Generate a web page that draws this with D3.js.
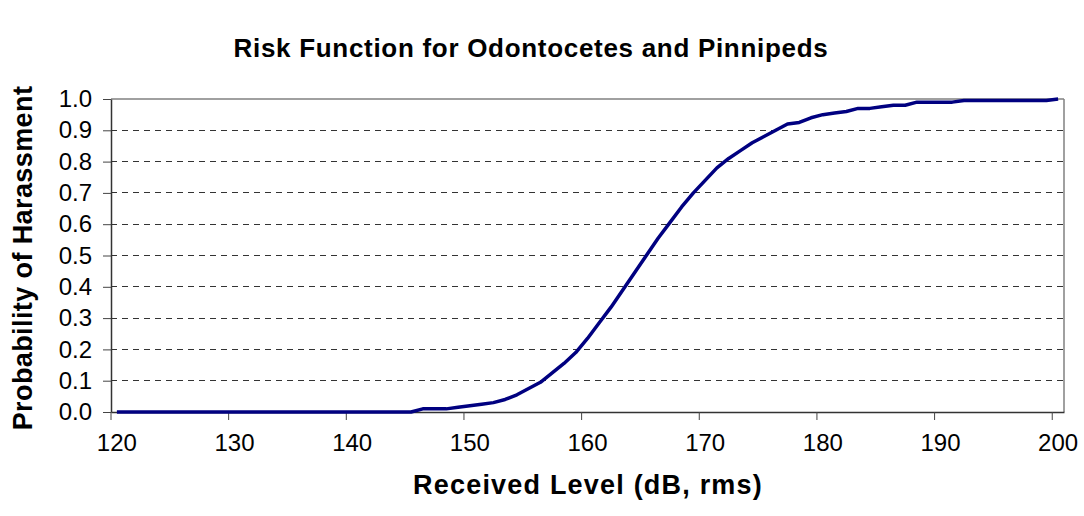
<!DOCTYPE html>
<html><head><meta charset="utf-8">
<script src="https://cdn.jsdelivr.net/npm/d3@7/dist/d3.min.js"></script>
<style>body{margin:0;background:#fff}</style>
</head><body>
<svg id="c" width="1084" height="516"></svg>
<script>
// Received level categories (dB, rms)
const levels = [120,121,122,123,124,125,126,127,128,129,130,131,132,133,134,135,136,137,138,139,
  140,141,142,143,144,145,146,147,148,149,150,151,152,153,154,155,156,157,158,159,
  160,161,162,163,164,165,166,167,168,169,170,171,172,173,174,175,176,177,178,179,
  180,181,182,183,184,185,186,187,188,189,190,191,192,193,194,195,196,197,198,199,200];
// Probability of harassment
const probability = [0,0,0,0,0,0,0,0,0,0,0,0,0,0,0,0,0,0,0,0,
  0,0,0,0,0,0,0.01,0.01,0.01,0.015,0.02,0.025,0.03,0.04,0.055,0.075,0.095,0.125,0.155,0.19,
  0.235,0.285,0.335,0.39,0.445,0.50,0.555,0.605,0.655,0.70,0.74,0.78,0.81,0.835,0.86,0.88,0.90,0.92,0.925,0.94,
  0.95,0.955,0.96,0.97,0.97,0.975,0.98,0.98,0.99,0.99,0.99,0.99,0.995,0.995,0.995,0.995,0.995,0.995,0.995,0.995,1.0];
const xTickLabels = [120,130,140,150,160,170,180,190,200];
const yTickLabels = [0,0.1,0.2,0.3,0.4,0.5,0.6,0.7,0.8,0.9,1.0];
const titleText = "Risk Function for Odontocetes and Pinnipeds";
const xTitle = "Received Level (dB, rms)";
const yTitle = "Probability of Harassment";

const svg = d3.select("#c");
const L = 111, R = 1064, T = 99, B = 412;
const x = d3.scaleBand().domain(levels).range([L, R]).padding(0);
const y = d3.scaleLinear().domain([0, 1]).range([B, T]);
const font = "Arial, 'Liberation Sans', sans-serif";

// gridlines
svg.append("g").selectAll("line").data(yTickLabels.filter(v => v > 0 && v < 1)).join("line")
  .attr("x1", L).attr("x2", R).attr("y1", d => y(d)).attr("y2", d => y(d))
  .attr("stroke", "#333").attr("stroke-width", 1).attr("stroke-dasharray", "6,5")
  .attr("shape-rendering", "crispEdges");
// top & right border
svg.append("line").attr("x1", L).attr("x2", R).attr("y1", T).attr("y2", T)
  .attr("stroke", "#808080").attr("stroke-width", 1.5);
svg.append("line").attr("x1", R).attr("x2", R).attr("y1", T).attr("y2", B)
  .attr("stroke", "#808080").attr("stroke-width", 1.5);

// x axis
const gx = svg.append("g").attr("transform", `translate(0,${B})`)
  .call(d3.axisBottom(x).tickValues(xTickLabels).tickSize(8).tickSizeOuter(0).tickPadding(14));
gx.select(".domain").attr("stroke", "#333").attr("stroke-width", 1.5);
gx.selectAll(".tick line").attr("transform", `translate(${-x.bandwidth() / 2},0)`).attr("stroke", "#444");
gx.selectAll(".tick text").attr("font-family", font).attr("font-size", 24).attr("fill", "#000");

// y axis
const gy = svg.append("g").attr("transform", `translate(${L},0)`)
  .call(d3.axisLeft(y).tickValues(yTickLabels).tickFormat(d3.format(".1f")).tickSize(8).tickSizeOuter(0).tickPadding(11));
gy.select(".domain").attr("stroke", "#333").attr("stroke-width", 1.5);
gy.selectAll(".tick line").attr("stroke", "#444");
gy.selectAll(".tick text").attr("font-family", font).attr("font-size", 24).attr("fill", "#000");

// line
const line = d3.line().x(d => x(d[0]) + x.bandwidth() / 2).y(d => y(d[1]));
svg.append("path").datum(levels.map((l, i) => [l, probability[i]]))
  .attr("d", line).attr("fill", "none").attr("stroke", "#000080").attr("stroke-width", 3.5)
  .attr("stroke-linejoin", "round");

// titles
svg.append("text").attr("x", 531).attr("y", 57).attr("text-anchor", "middle")
  .attr("font-family", font).attr("font-weight", "bold").attr("font-size", 26)
  .attr("letter-spacing", 0.7).text(titleText);
svg.append("text").attr("x", 588).attr("y", 494).attr("text-anchor", "middle")
  .attr("font-family", font).attr("font-weight", "bold").attr("font-size", 27)
  .attr("letter-spacing", 1.2).text(xTitle);
svg.append("text").attr("transform", "translate(32,258) rotate(-90)").attr("text-anchor", "middle")
  .attr("font-family", font).attr("font-weight", "bold").attr("font-size", 27)
  .attr("letter-spacing", 0.4).text(yTitle);
</script>
</body></html>
